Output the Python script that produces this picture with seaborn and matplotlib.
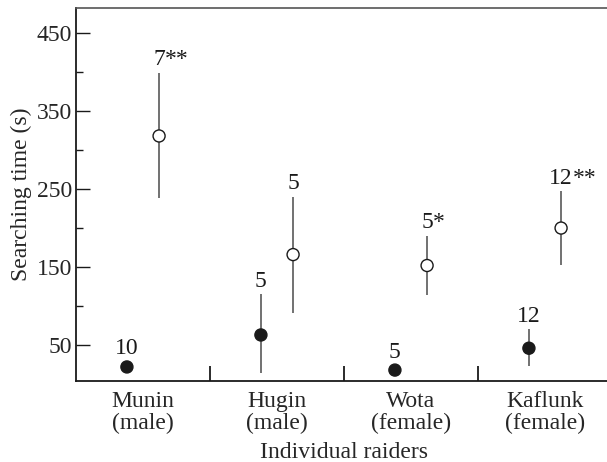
import matplotlib
matplotlib.use("Agg")
import matplotlib.pyplot as plt
import numpy as np
import pandas as pd
import seaborn as sns

# values
raiders = ["Munin\n(male)", "Hugin\n(male)", "Wota\n(female)", "Kaflunk\n(female)"]
closed_mean = [22, 63, 18, 46]
closed_low = [np.nan, 14, np.nan, 23]
closed_high = [np.nan, 115, np.nan, 70]
closed_n = ["10", "5", "5", "12"]
closed_sig = ["", "", "", ""]
open_mean = [318, 166, 152, 200]
open_low = [238, 91, 114, 153]
open_high = [399, 240, 190, 247]
open_n = ["7", "5", "5", "12"]
open_sig = ["**", "", "*", "**"]
y_major = [50, 150, 250, 350, 450]
y_minor = [100, 200, 300, 400]

offsets = {"closed": -0.12, "open": 0.12}
FS = 17

rows = []
for i, name in enumerate(raiders):
    rows.append(dict(raider=name, idx=i, condition="closed", mean=closed_mean[i],
                     low=closed_low[i], high=closed_high[i], n=closed_n[i], sig=closed_sig[i]))
    rows.append(dict(raider=name, idx=i, condition="open", mean=open_mean[i],
                     low=open_low[i], high=open_high[i], n=open_n[i], sig=open_sig[i]))
df = pd.DataFrame(rows)
df["xpos"] = df["idx"] + df["condition"].map(offsets)

sns.set_style("ticks")
plt.rcParams["font.family"] = ["Liberation Serif", "DejaVu Serif"]
plt.rcParams["font.size"] = FS

fig = plt.figure(figsize=(6.07, 4.62), dpi=100)
ax = fig.add_axes([76 / 607, 1 - 381 / 462, 536 / 607, 373 / 462])

bars = df.dropna(subset=["low", "high"])
ax.vlines(bars["xpos"], bars["low"], bars["high"], color="#666666", lw=1.3, zorder=2)

sns.scatterplot(data=df, x="xpos", y="mean", hue="condition",
                palette={"closed": "#1a1a1a", "open": "white"},
                edgecolor="#1a1a1a", linewidth=1.0, s=75, legend=False,
                zorder=3, ax=ax)

for _, r in df.iterrows():
    if np.isnan(r["high"]):
        top, off = r["mean"], 9
    else:
        top, off = r["high"], 5.5
    t = ax.annotate(r["n"], xy=(r["xpos"], top), xytext=(0, off),
                    textcoords="offset points", ha="center", va="baseline",
                    fontsize=FS, color="#1a1a1a")
    if r["sig"]:
        ax.annotate(r["sig"], xy=(1, 0), xycoords=t, ha="left", va="bottom",
                    fontsize=FS, color="#1a1a1a")

ax.set_xlim(-0.5, 3.5)
ax.set_ylim(4, 482)
ax.set_xticks(range(len(raiders)))
ax.set_xticklabels(raiders, linespacing=1.05)
ax.set_xticks([0.5, 1.5, 2.5], minor=True)
ax.tick_params(axis="x", which="major", bottom=True, length=0, pad=7, labelsize=FS)
ax.tick_params(axis="x", which="minor", bottom=True, direction="in", length=11,
               width=1.3, color="#1a1a1a")
ax.set_yticks(y_major)
ax.set_yticks(y_minor, minor=True)
ax.tick_params(axis="y", which="major", left=True, direction="in", length=10, width=1.0,
               pad=3, labelsize=FS, color="#1a1a1a")
ax.tick_params(axis="y", which="minor", left=True, direction="in", length=5, width=1.0,
               color="#1a1a1a")

ax.set_xlabel("Individual raiders", fontsize=FS, labelpad=6)
ax.set_ylabel("Searching time (s)", fontsize=FS, labelpad=3)

for side in ["left", "bottom"]:
    ax.spines[side].set_color("#1a1a1a")
    ax.spines[side].set_linewidth(1.3)
ax.spines["top"].set_color("#555555")
ax.spines["top"].set_linewidth(1.2)
ax.spines["right"].set_visible(False)

fig.savefig("out.png", dpi=100)
